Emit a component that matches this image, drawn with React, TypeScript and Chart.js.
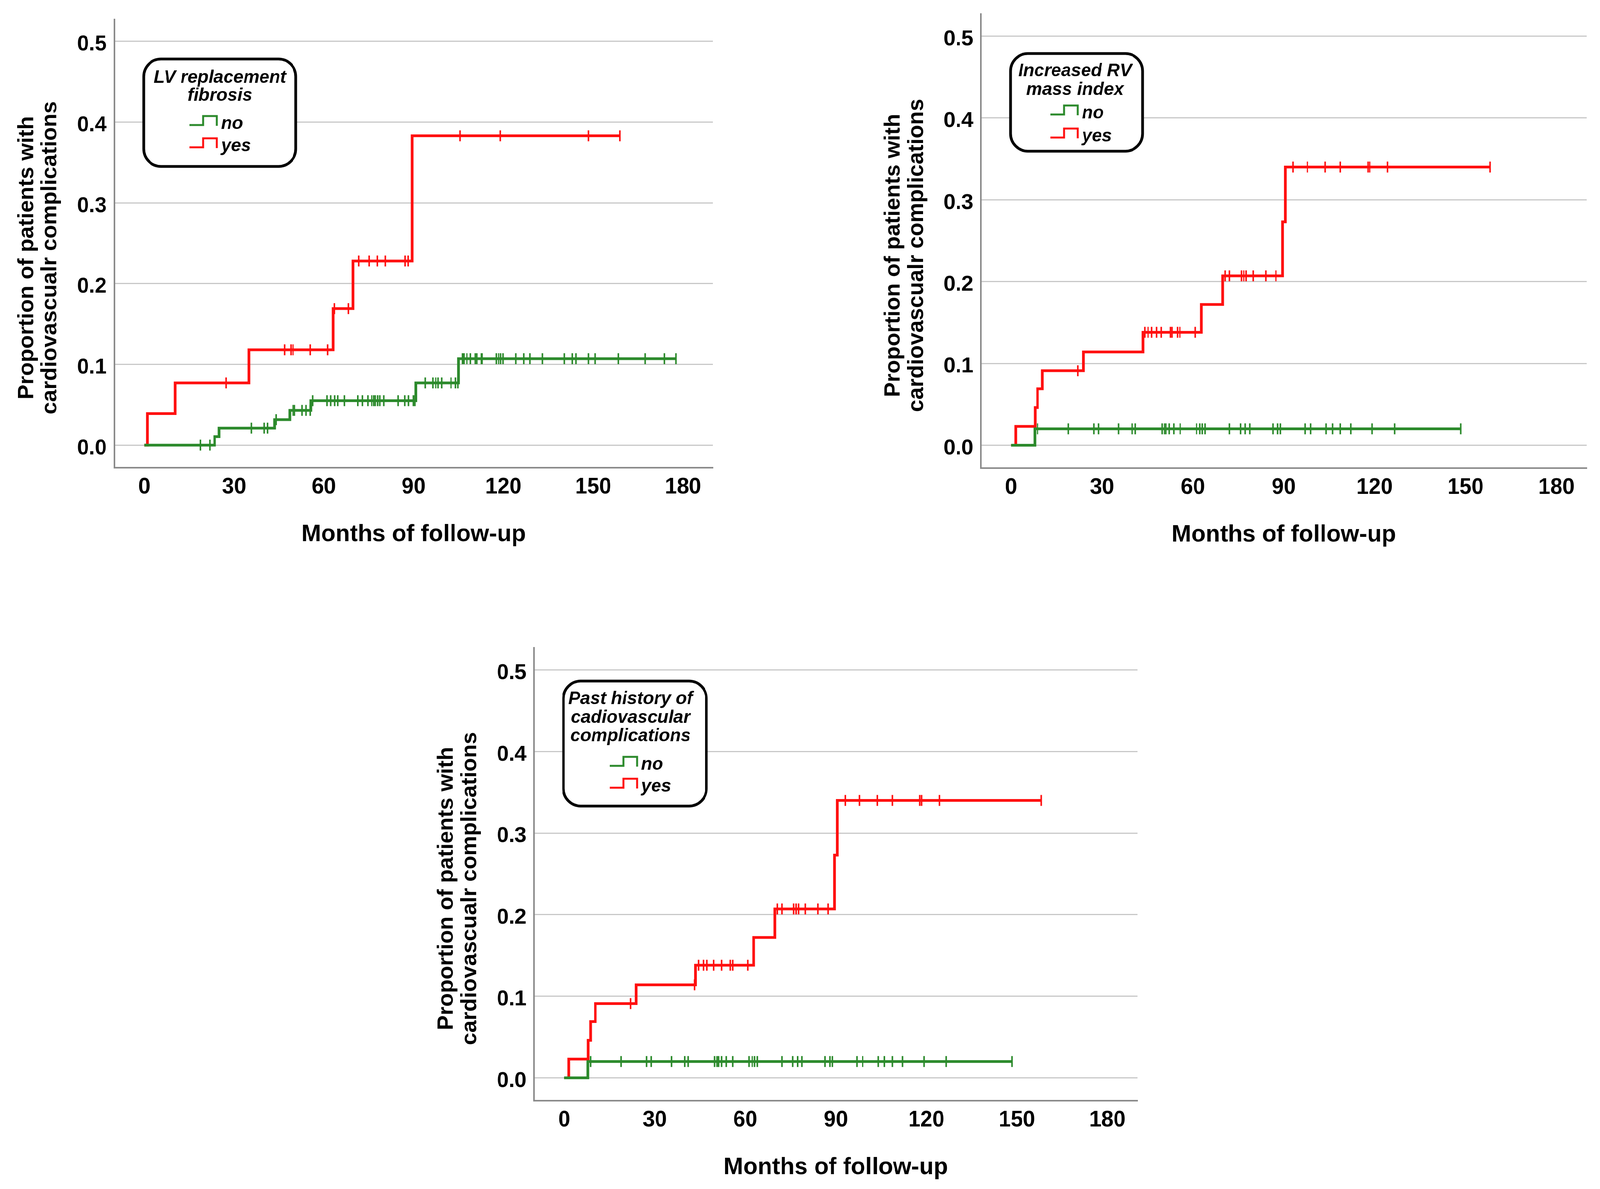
import React, { useEffect, useRef, useState } from "react";
import { Chart, registerables } from "chart.js";

Chart.register(...registerables);

// ---------------- DATA ----------------
const xTickValues = [0, 30, 60, 90, 120, 150, 180];
const yTickValues = [0, 0.1, 0.2, 0.3, 0.4, 0.5];
const seriesLabels = ["no", "yes"];
const xAxisTitle = "Months of follow-up";
const yAxisTitle = ["Proportion of patients with", "cardiovascualr complications"];

// Panel 1 — LV replacement fibrosis
const p1LegendTitle = ["LV replacement", "fibrosis"];
const p1NoTimes = [0, 23.5, 25, 43.5, 48.6, 55.7, 90.7, 105.0];
const p1NoValues = [0, 0.0105, 0.021, 0.0315, 0.043, 0.055, 0.077, 0.107];
const p1NoCensored = [18.8, 21.9, 35.8, 40.1, 41.2, 44.0, 49.7, 50.2, 52.7, 54.0, 55.5, 56.3, 61.1, 62.3, 63.6, 64.6, 66.9, 71.4, 72.9, 74.7, 76.0, 76.7, 77.2, 78.0, 78.7, 80.0, 84.8, 87.1, 88.3, 89.9, 90.4, 93.9, 96.4, 97.4, 98.2, 99.4, 102.5, 104.0, 104.8, 106.3, 106.8, 107.8, 109.0, 110.6, 111.1, 112.6, 112.8, 117.6, 118.4, 119.1, 119.9, 124.2, 126.8, 128.8, 133.0, 140.4, 143.0, 144.2, 148.4, 150.7, 158.4, 167.4, 173.8, 177.7];
const p1YesTimes = [0, 1.0, 10.3, 35.0, 63.1, 69.7, 89.5];
const p1YesValues = [0, 0.039, 0.077, 0.118, 0.169, 0.228, 0.383];
const p1YesCensored = [27.3, 46.9, 49.0, 49.7, 55.5, 61.3, 63.5, 68.2, 71.7, 75.1, 77.9, 80.5, 87.2, 88.2, 105.5, 119.0, 148.4, 158.9];

// Panel 2 — Increased RV mass index
const p2LegendTitle = ["Increased RV", "mass index"];
const p2NoTimes = [0, 7.8];
const p2NoValues = [0, 0.020];
const p2NoCensored = [8.7, 18.8, 27.3, 28.8, 35.5, 39.9, 41.0, 49.8, 50.6, 51.1, 52.2, 53.7, 55.8, 61.2, 62.3, 63.1, 64.0, 72.1, 75.7, 77.3, 78.8, 86.4, 88.0, 88.9, 97.0, 98.9, 104.0, 106.1, 108.7, 112.1, 119.2, 126.6, 148.4];
const p2YesTimes = [0, 1.5, 7.9, 8.7, 10.3, 23.8, 43.5, 62.8, 69.8, 89.6, 90.5];
const p2YesValues = [0, 0.023, 0.046, 0.069, 0.091, 0.114, 0.138, 0.172, 0.207, 0.273, 0.340];
const p2YesCensored = [22.0, 44.1, 45.2, 46.4, 48.0, 49.5, 52.6, 53.1, 54.9, 55.7, 60.7, 70.6, 72.1, 76.0, 76.8, 77.6, 79.9, 84.1, 87.4, 93.1, 97.8, 103.7, 108.7, 117.8, 118.4, 124.3, 158.1];

// Panel 3 — Past history of cardiovascular complications
const p3LegendTitle = ["Past history of", "cadiovascular", "complications"];
const p3NoTimes = [0, 7.8];
const p3NoValues = [0, 0.020];
const p3NoCensored = [8.7, 18.8, 27.3, 28.8, 35.5, 39.9, 41.0, 49.8, 50.6, 51.1, 52.2, 53.7, 55.8, 61.2, 62.3, 63.1, 64.0, 72.1, 75.7, 77.3, 78.8, 86.4, 88.0, 88.9, 97.0, 98.9, 104.0, 106.1, 108.7, 112.1, 119.2, 126.6, 148.4];
const p3YesTimes = [0, 1.5, 7.9, 8.7, 10.3, 23.8, 43.5, 62.8, 69.8, 89.6, 90.5];
const p3YesValues = [0, 0.023, 0.046, 0.069, 0.091, 0.114, 0.138, 0.172, 0.207, 0.273, 0.340];
const p3YesCensored = [22.0, 43.2, 44.5, 46.1, 47.3, 49.5, 52.2, 55.0, 55.8, 60.8, 70.6, 72.1, 76.0, 76.8, 77.6, 79.9, 84.1, 87.4, 93.1, 97.8, 103.7, 108.7, 117.8, 118.4, 124.3, 158.1];

// ---------------- STYLE / LAYOUT ----------------
const STAGE_W = 4197;
const STAGE_H = 3043;
const GREEN = "#2c8a2c";
const RED = "#ff1010";
const FONT = "'Liberation Sans', Arial, sans-serif";

type Series = { times: number[]; values: number[]; censored: number[] };
type Panel = {
  canvas: { left: number; top: number; w: number; h: number };
  area: { l: number; t: number; r: number; b: number };
  legendTitle: string[];
  legend: { box: [number, number, number, number]; titleCx: number; titleBase: number[]; textX: number; rowBase: number[] };
  no: Series;
  yes: Series;
};

const panels: Panel[] = [
  {
    canvas: { left: 0, top: 0, w: 1900, h: 1440 },
    area: { l: 300, t: 50, r: 1870, b: 1197 },
    legendTitle: p1LegendTitle,
    legend: { box: [377, 151, 399, 275], titleCx: 577, titleBase: [212, 258], textX: 580, rowBase: [330, 387] },
    no: { times: p1NoTimes, values: p1NoValues, censored: p1NoCensored },
    yes: { times: p1YesTimes, values: p1YesValues, censored: p1YesCensored },
  },
  {
    canvas: { left: 2250, top: 0, w: 1947, h: 1440 },
    area: { l: 2573, t: 36, r: 4162, b: 1198 },
    legendTitle: p2LegendTitle,
    legend: { box: [2651, 137, 346, 250], titleCx: 2820, titleBase: [195, 243], textX: 2838, rowBase: [303, 362] },
    no: { times: p2NoTimes, values: p2NoValues, censored: p2NoCensored },
    yes: { times: p2YesTimes, values: p2YesValues, censored: p2YesCensored },
  },
  {
    canvas: { left: 1100, top: 1600, w: 1950, h: 1443 },
    area: { l: 1401, t: 1658, r: 2984, b: 2817 },
    legendTitle: p3LegendTitle,
    legend: { box: [1478, 1743, 375, 320], titleCx: 1654, titleBase: [1802, 1850, 1897], textX: 1682, rowBase: [1970, 2026] },
    no: { times: p3NoTimes, values: p3NoValues, censored: p3NoCensored },
    yes: { times: p3YesTimes, values: p3YesValues, censored: p3YesCensored },
  },
];

function stepValue(s: Series, t: number) {
  let y = 0;
  for (let i = 0; i < s.times.length; i++) if (s.times[i] <= t) y = s.values[i];
  return y;
}
function curvePoints(s: Series) {
  const pts = s.times.map((t, i) => ({ x: t, y: s.values[i] }));
  const end = Math.max(...s.censored);
  pts.push({ x: end, y: stepValue(s, end) });
  return pts;
}
function censorPoints(s: Series) {
  return s.censored.map((t) => ({ x: t, y: stepValue(s, t) }));
}

function decorPlugin(p: Panel) {
  return {
    id: "decor",
    afterDraw(chart: any) {
      const { ctx, chartArea, scales } = chart;
      const ox = p.canvas.left;
      const oy = p.canvas.top;
      ctx.save();
      ctx.fillStyle = "#000";
      ctx.textBaseline = "alphabetic";
      // x title
      ctx.font = `bold 62px ${FONT}`;
      ctx.textAlign = "center";
      ctx.fillText(xAxisTitle, scales.x.getPixelForValue(90), chartArea.bottom + 188);
      // y title
      ctx.font = `bold 57px ${FONT}`;
      const cy = scales.y.getPixelForValue(0.232);
      yAxisTitle.forEach((line, i) => {
        ctx.save();
        ctx.translate(chartArea.left - 213 + i * 61, cy);
        ctx.rotate(-Math.PI / 2);
        ctx.fillText(line, 0, 0);
        ctx.restore();
      });
      // legend box
      const L = p.legend;
      const [bx, by, bw, bh] = L.box;
      ctx.beginPath();
      ctx.roundRect(bx - ox, by - oy, bw, bh, 45);
      ctx.fillStyle = "#ffffff";
      ctx.fill();
      ctx.lineWidth = 7;
      ctx.strokeStyle = "#000";
      ctx.stroke();
      ctx.fillStyle = "#000";
      ctx.font = `italic bold 47px ${FONT}`;
      ctx.textAlign = "center";
      p.legendTitle.forEach((line, i) => ctx.fillText(line, L.titleCx - ox, L.titleBase[i] - oy));
      const colors = [GREEN, RED];
      seriesLabels.forEach((lab, i) => {
        const base = L.rowBase[i] - oy;
        const tx = L.textX - ox;
        ctx.beginPath();
        ctx.moveTo(tx - 83, base - 10);
        ctx.lineTo(tx - 47, base - 10);
        ctx.lineTo(tx - 47, base - 33);
        ctx.lineTo(tx - 11, base - 33);
        ctx.lineTo(tx - 11, base - 8);
        ctx.lineWidth = 5;
        ctx.strokeStyle = colors[i];
        ctx.lineJoin = "miter";
        ctx.stroke();
        ctx.fillStyle = "#000";
        ctx.textAlign = "left";
        ctx.fillText(lab, tx, base);
      });
      ctx.restore();
    },
  };
}

function makeConfig(p: Panel): any {
  const yWidth = p.area.l - p.canvas.left;
  const xHeight = p.canvas.top + p.canvas.h - p.area.b;
  const lineDs = (s: Series, color: string) => ({
    type: "line",
    data: curvePoints(s),
    borderColor: color,
    borderWidth: 7,
    stepped: "before",
    pointRadius: 0,
    fill: false,
    borderJoinStyle: "miter",
  });
  const censorDs = (s: Series, color: string) => ({
    type: "line",
    data: censorPoints(s),
    showLine: false,
    pointStyle: "line",
    pointRotation: 90,
    pointRadius: 14,
    pointBorderWidth: 4,
    pointBorderColor: color,
    pointBackgroundColor: color,
    borderColor: color,
  });
  return {
    type: "line",
    data: {
      datasets: [lineDs(p.no, GREEN), lineDs(p.yes, RED), censorDs(p.no, GREEN), censorDs(p.yes, RED)],
    },
    options: {
      animation: false,
      responsive: false,
      devicePixelRatio: 1,
      events: [],
      layout: {
        padding: {
          left: 0,
          bottom: 0,
          top: p.area.t - p.canvas.top,
          right: p.canvas.left + p.canvas.w - p.area.r,
        },
      },
      plugins: { legend: { display: false }, tooltip: { enabled: false }, title: { display: false } },
      scales: {
        x: {
          type: "linear",
          min: -10,
          max: 190,
          afterFit: (s: any) => {
            s.height = xHeight;
          },
          afterBuildTicks: (s: any) => {
            s.ticks = xTickValues.map((v) => ({ value: v }));
          },
          ticks: {
            stepSize: 30,
            includeBounds: false,
            padding: 22,
            color: "#000",
            font: { size: 57, weight: "bold", family: FONT, lineHeight: 1 },
            callback: (v: any) => String(v),
            maxRotation: 0,
            autoSkip: false,
          },
          grid: { display: false, drawTicks: false },
          border: { display: true, color: "#8a8a8a", width: 4 },
          title: { display: false },
        },
        y: {
          type: "linear",
          min: -0.028,
          max: 0.527,
          afterFit: (s: any) => {
            s.width = yWidth;
          },
          afterBuildTicks: (s: any) => {
            s.ticks = yTickValues.map((v) => ({ value: v }));
          },
          ticks: {
            stepSize: 0.1,
            includeBounds: false,
            padding: 0,
            labelOffset: 8,
            color: "#000",
            font: { size: 56, weight: "bold", family: FONT, lineHeight: 1 },
            callback: (v: any) => Number(v).toFixed(1),
            autoSkip: false,
          },
          grid: {
            display: true,
            color: "#c8c8c8",
            lineWidth: 3,
            drawTicks: true,
            tickLength: 20,
            tickColor: "rgba(0,0,0,0)",
          },
          border: { display: true, color: "#8a8a8a", width: 4 },
          title: { display: false },
        },
      },
    },
    plugins: [decorPlugin(p)],
  };
}

function PanelChart({ p }: { p: Panel }) {
  const ref = useRef<HTMLCanvasElement | null>(null);
  useEffect(() => {
    if (!ref.current) return;
    const chart = new Chart(ref.current, makeConfig(p));
    return () => chart.destroy();
  }, [p]);
  return (
    <canvas
      ref={ref}
      width={p.canvas.w}
      height={p.canvas.h}
      style={{
        position: "absolute",
        left: p.canvas.left,
        top: p.canvas.top,
        width: p.canvas.w,
        height: p.canvas.h,
      }}
    />
  );
}

function viewport() {
  const de = document.documentElement;
  return {
    w: de.clientWidth || window.innerWidth,
    h: de.clientHeight || window.innerHeight,
  };
}

export default function App() {
  const [vp, setVp] = useState(viewport());
  useEffect(() => {
    const onResize = () => setVp(viewport());
    window.addEventListener("resize", onResize);
    return () => window.removeEventListener("resize", onResize);
  }, []);
  // The viewport may be narrower than the 4197x3043 stage; fit the stage into it.
  const kx = vp.w / STAGE_W;
  const ky = vp.h / STAGE_H;
  return (
    <div
      style={{
        position: "fixed",
        left: 0,
        top: 0,
        width: STAGE_W,
        height: STAGE_H,
        background: "#ffffff",
        overflow: "hidden",
        transform: `scale(${kx}, ${ky})`,
        transformOrigin: "0 0",
      }}
    >
      {panels.map((p, i) => (
        <PanelChart key={i} p={p} />
      ))}
    </div>
  );
}
